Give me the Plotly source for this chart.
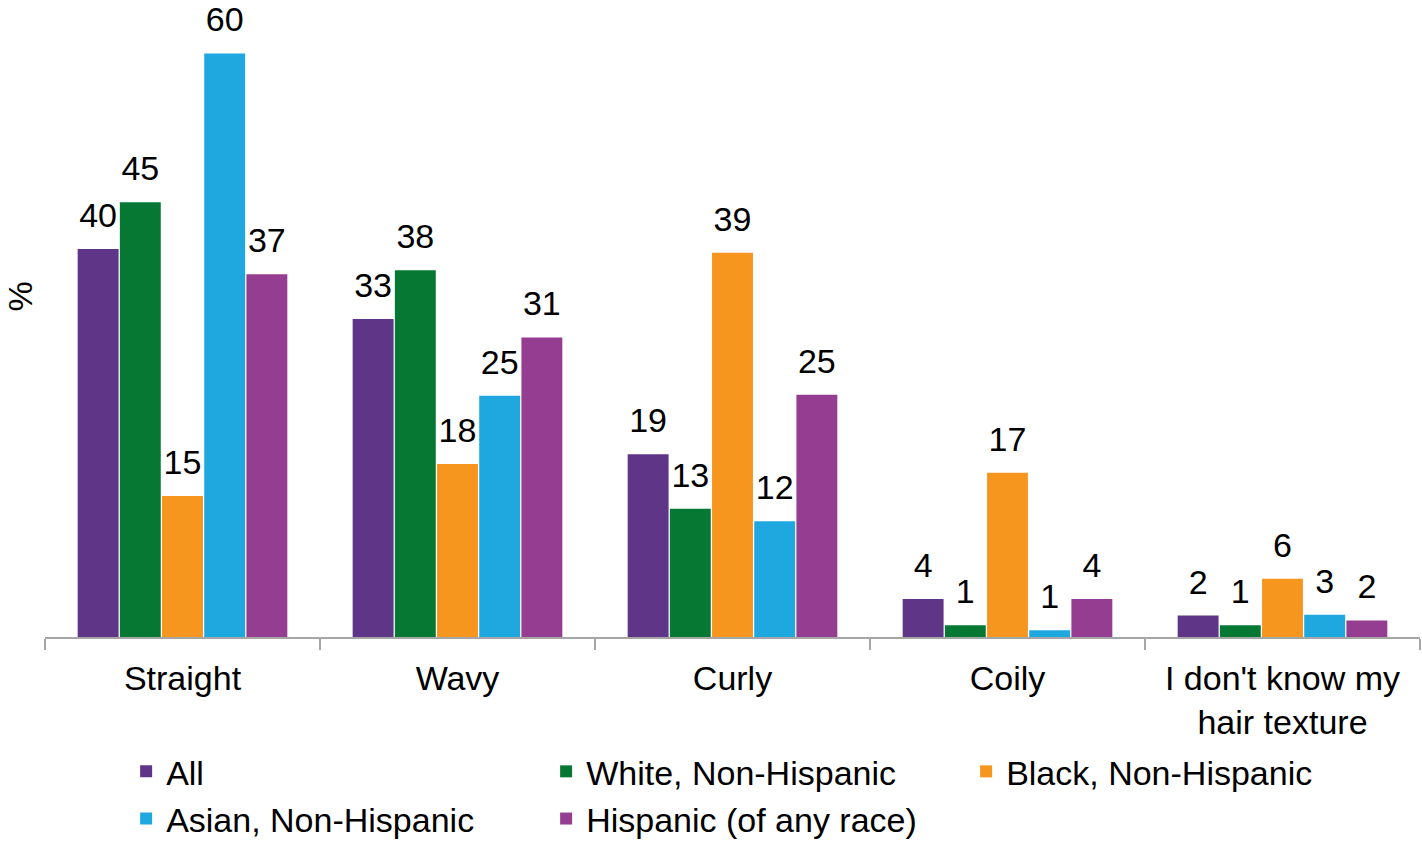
import plotly.graph_objects as go

categories = ["Straight", "Wavy", "Curly", "Coily", "I don't know my<br>hair texture"]
series_names = ["All", "White, Non-Hispanic", "Black, Non-Hispanic", "Asian, Non-Hispanic", "Hispanic (of any race)"]
colors = ["#5F3587", "#067834", "#F7961F", "#1FA8E0", "#953D91"]

# bar heights as drawn
all_vals = [39.9, 32.7, 18.8, 3.9, 2.2]
white_vals = [44.7, 37.7, 13.2, 1.2, 1.2]
black_vals = [14.5, 17.8, 39.5, 16.9, 6.0]
asian_vals = [60.0, 24.8, 11.9, 0.7, 2.3]
hisp_vals = [37.3, 30.8, 24.9, 3.9, 1.7]

# printed labels
all_labels = [40, 33, 19, 4, 2]
white_labels = [45, 38, 13, 1, 1]
black_labels = [15, 18, 39, 17, 6]
asian_labels = [60, 25, 12, 1, 3]
hisp_labels = [37, 31, 25, 4, 2]

values = [all_vals, white_vals, black_vals, asian_vals, hisp_vals]
labels = [all_labels, white_labels, black_labels, asian_labels, hisp_labels]

FONT = "Liberation Sans, Arial, sans-serif"

fig = go.Figure()
for name, vals, col in zip(series_names, values, colors):
    fig.add_trace(go.Bar(x=categories, y=vals, name=name, marker=dict(color=col, line=dict(width=0)),
                         hoverinfo="skip"))
for name, vals, lab in zip(series_names, values, labels):
    fig.add_trace(go.Scatter(x=categories, y=vals, mode="markers+text", text=[str(v) for v in lab],
                             textposition="top center", showlegend=False, hoverinfo="skip",
                             marker=dict(size=20, color="rgba(0,0,0,0)"),
                             textfont=dict(size=34, color="black", family=FONT), cliponaxis=False))

fig.update_layout(
    width=1422, height=843,
    margin=dict(l=45, r=2, t=0, b=206, autoexpand=False),
    paper_bgcolor="white", plot_bgcolor="white",
    barmode="group", bargap=0.233, bargroupgap=0.03,
    scattermode="group", scattergap=0.233,
    font=dict(family=FONT, size=34, color="black"),
    showlegend=True,
    legend=dict(orientation="h", x=0.059, xanchor="left", y=-0.166, yanchor="top",
                entrywidth=375, entrywidthmode="pixels",
                font=dict(size=34, color="black", family=FONT), traceorder="normal"),
    xaxis=dict(showline=True, linecolor="#A6A6A6", linewidth=2, ticks="outside", tickson="boundaries",
               ticklen=11, tickcolor="#A6A6A6", tickwidth=2, showgrid=False, automargin=False,
               tickfont=dict(size=34, color="black", family=FONT), ticklabelstandoff=10),
    yaxis=dict(range=[0, 65.5], showticklabels=False, showgrid=False, zeroline=False, showline=False,
               ticks="", automargin=False),
    annotations=[dict(text="%", textangle=-90, xref="paper", yref="paper", x=-0.018, y=0.535,
                      xanchor="center", yanchor="middle", showarrow=False,
                      font=dict(size=34, color="black", family=FONT))],
)

fig.write_html("out.html", config={"displayModeBar": False},
               post_script="document.body.style.margin='0';")
